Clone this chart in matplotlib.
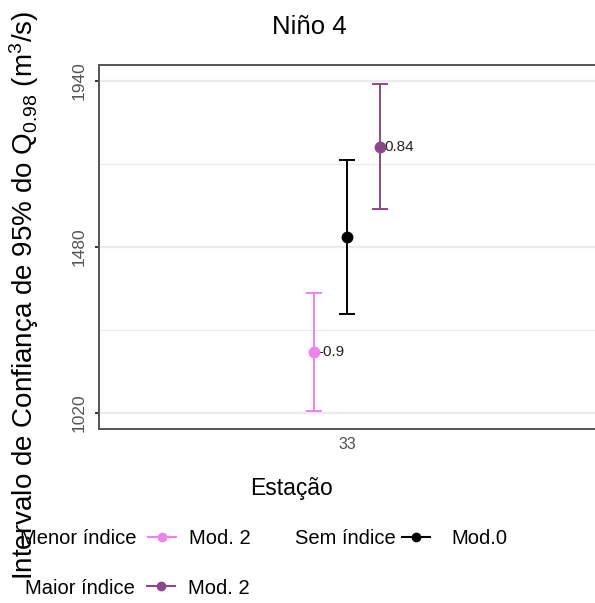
import matplotlib
matplotlib.use("Agg")
import matplotlib.pyplot as plt
from matplotlib.lines import Line2D

plt.rcParams['font.family'] = ['Liberation Sans', 'DejaVu Sans']
plt.rcParams['mathtext.fontset'] = 'custom'
plt.rcParams['mathtext.rm'] = 'Liberation Sans'
plt.rcParams['mathtext.it'] = 'Liberation Sans'

# Intervalos de confianca por modelo (estacao 33, Nino 4)
grupos = ['Menor índice', 'Sem índice', 'Maior índice']
modelos = ['Mod. 2', 'Mod.0', 'Mod. 2']
cores = ['#EE82EE', '#000000', '#8B4789']
q098 = [1187, 1508, 1755]
li = [1026, 1293, 1584]
ls = [1351, 1720, 1930]
rotulos = ['-0.9', None, '0.84']
dodge = [-0.08, 0.0, 0.08]
estacao = '33'
yticks = [1020, 1480, 1940]

W, H = 595, 603
fig = plt.figure(figsize=(W / 100, H / 100), dpi=100)
ax = fig.add_axes([99 / W, 1 - 429 / H, 1 - 99 / W, (429 - 65) / H])

for k in range(3):
    ax.errorbar(dodge[k], q098[k],
                yerr=[[q098[k] - li[k]], [ls[k] - q098[k]]],
                fmt='o', color=cores[k], ms=7.5, lw=1.4, capsize=5.5,
                capthick=1.4, zorder=3)
    if rotulos[k] is not None:
        ax.annotate(rotulos[k], (dodge[k], q098[k]), xytext=(3, 0),
                    textcoords='offset points', ha='left', va='center',
                    fontsize=11, color='#222222')

ax.set_xlim(-0.6, 0.6)
ax.set_ylim(975, 1983)
ax.set_xticks([0])
ax.set_xticklabels([estacao])
ax.set_yticks(yticks)
ax.set_yticks([(yticks[0] + yticks[1]) / 2, (yticks[1] + yticks[2]) / 2], minor=True)
ax.grid(axis='y', which='major', color='#ebebeb', lw=1.6)
ax.grid(axis='y', which='minor', color='#ebebeb', lw=0.8)
ax.set_axisbelow(True)
ax.tick_params(axis='x', length=0, pad=6, labelsize=11.5, labelcolor='#4d4d4d')
ax.tick_params(axis='y', which='major', length=3, width=1.4, color='#333333',
               pad=6, labelsize=12.5, labelcolor='#555555', labelrotation=90)
ax.tick_params(axis='y', which='minor', length=0)
for lab in ax.get_yticklabels():
    lab.set_va('center')
ax.spines['right'].set_visible(False)
for s in ['top', 'bottom', 'left']:
    ax.spines[s].set_color('#555555')
    ax.spines[s].set_linewidth(1.4)

fig.text(309 / W, 1 - 27 / H, 'Niño 4', ha='center', va='center', fontsize=18.5)
fig.text(291 / W, 1 - 489 / H, 'Estação', ha='center', va='center', fontsize=16.5)
fig.text(24 / W, 1 - 295 / H,
         r'Intervalo de Confiança de 95% do Q$_{0.98}$ (m$^3$/s)',
         rotation=90, ha='center', va='center', fontsize=20)

# legenda em duas linhas, titulo a esquerda de cada chave
leg_pos = [(137, 148, 539, 0.65), (396, 402, 539, 1.05), (135, 147, 588, 0.65)]
for k in range(3):
    tx, kx, ky, pad = leg_pos[k]
    fig.text(tx / W, 1 - ky / H, grupos[k], ha='right', va='center', fontsize=14.5)
    h = Line2D([], [], color=cores[k], marker='o', ms=6, lw=1.5)
    fig.legend(handles=[h], labels=[modelos[k]], loc='center left',
               bbox_to_anchor=(kx / W, 1 - ky / H), frameon=False,
               fontsize=14.5, handlelength=1.4, handletextpad=pad,
               borderpad=0, borderaxespad=0)

fig.savefig('out.png', dpi=100)
